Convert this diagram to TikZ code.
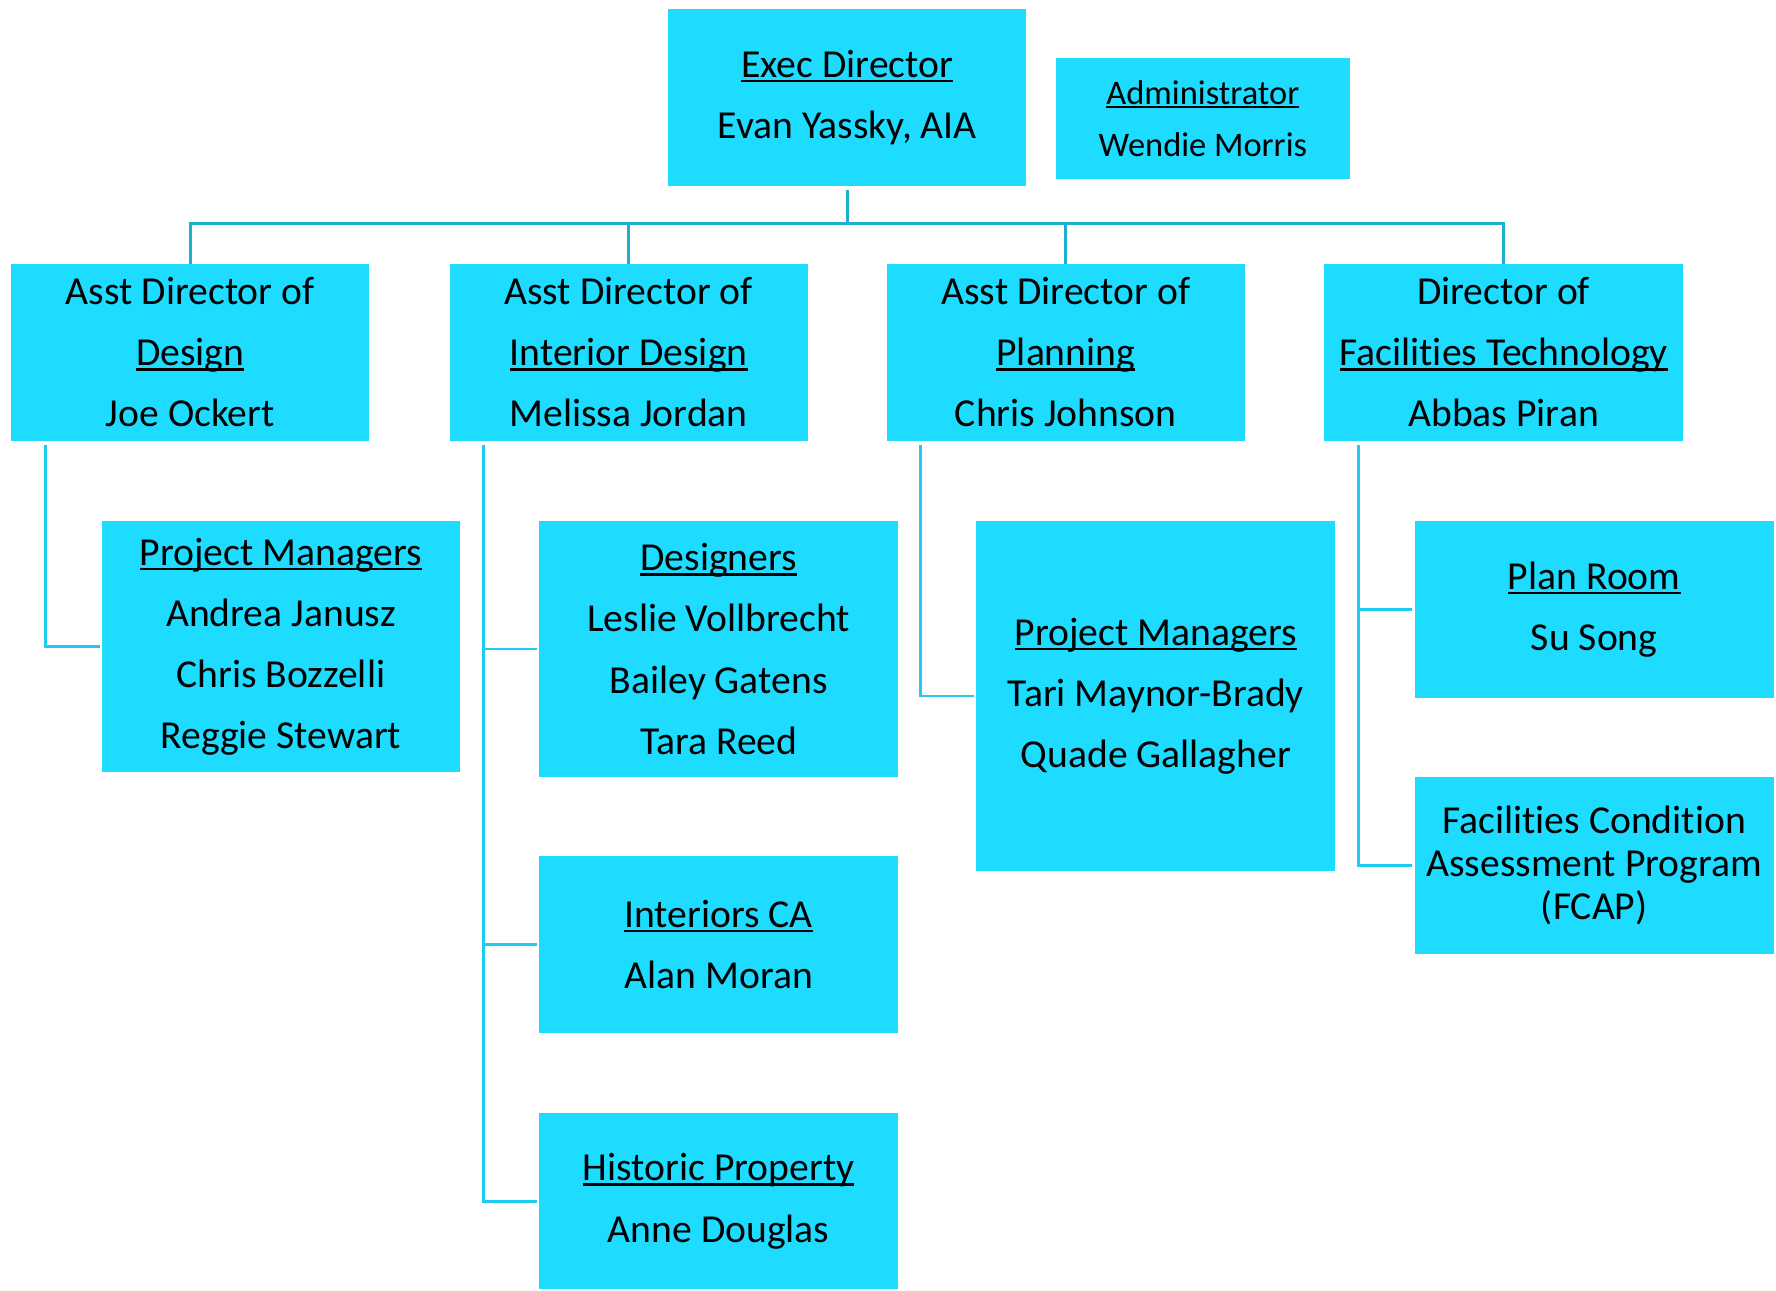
\documentclass[tikz,border=0pt]{standalone}
\usepackage{fontspec}
\setmainfont[Ligatures=NoCommon]{Carlito}
\usetikzlibrary{calc}
\definecolor{boxc}{HTML}{1DDCFF}
\definecolor{topc}{HTML}{1BB1CE}
\definecolor{subc}{HTML}{1CCDED}
\newcommand\hd[1]{\leavevmode\setbox0\hbox{#1}\rlap{\rule[-0.12em]{\wd0}{0.055em}}\box0}
\begin{document}
\begin{tikzpicture}[x=0.5pt,y=-0.5pt,
  box/.style={fill=boxc, inner sep=0pt, outer sep=0pt, align=center, font=\fontsize{17.5}{27}\selectfont},
  sz/.style 2 args={minimum width=#1*0.5pt, minimum height=#2*0.5pt},
  top/.style={draw=topc, line width=1.3pt},
  sub/.style={draw=subc, line width=1.3pt, shorten >=1pt}]
\useasboundingbox (0,0) rectangle (1568,1139);

\node[box, sz={316}{156}] (exec) at (748,86) {\hd{Exec Director}\\Evan Yassky, AIA};
\node[box, sz={260}{107}, font=\fontsize{15.2}{23}\selectfont] (admin) at (1062,104.5) {\hd{Administrator}\\Wendie Morris};

\node[box, sz={316}{156}] (d1) at (168,311) {Asst Director of\\\hd{Design}\\Joe Ockert};
\node[box, sz={316}{156}] (d2) at (555,311) {Asst Director of\\\hd{Interior Design}\\Melissa Jordan};
\node[box, sz={316}{156}] (d3) at (941,311) {Asst Director of\\\hd{Planning}\\Chris Johnson};
\node[box, sz={317}{156}] (d4) at (1327.5,311) {Director of\\\hd{Facilities Technology}\\Abbas Piran};

\node[box, sz={316}{222}] (pm1) at (248,571) {\hd{Project Managers}\\Andrea Janusz\\Chris Bozzelli\\Reggie Stewart};
\node[box, sz={317}{226}] (des) at (634.5,573) {\hd{Designers}\\Leslie Vollbrecht\\Bailey Gatens\\Tara Reed};
\node[box, sz={317}{156}] (ica) at (634.5,834) {\hd{Interiors CA}\\Alan Moran};
\node[box, sz={317}{155}] (hist) at (634.5,1060.5) {\hd{Historic Property}\\Anne Douglas};
\node[box, sz={317}{309}] (pm2) at (1020.5,614.5) {\hd{Project Managers}\\Tari Maynor-Brady\\Quade Gallagher};
\node[box, sz={317}{156}] (plan) at (1407.5,538) {\hd{Plan Room}\\Su Song};
\node[box, sz={317}{156}, font=\fontsize{17.5}{19}\selectfont] (fcap) at (1407.5,764) {Facilities Condition\\Assessment Program\\(FCAP)};

% top tree
\coordinate (bus) at (748,197);
\draw[top] ($(exec.south)+(0,4)$) -- (exec.south |- bus);
\draw[top] (d1.north) -- (d1.north |- bus) -- (d4.north |- bus) -- (d4.north);
\draw[top] (d2.north) -- (d2.north |- bus);
\draw[top] (d3.north) -- (d3.north |- bus);

% sub trees
\coordinate (v1) at ($(d1.south west)+(30,4)$);
\coordinate (v2) at ($(d2.south west)+(30,4)$);
\coordinate (v3) at ($(d3.south west)+(30,4)$);
\coordinate (v4) at ($(d4.south west)+(30,4)$);
\draw[sub] (v1) |- (pm1.west);
\draw[sub] (v2) |- (hist.west);
\draw[sub] (v2 |- des.west) -- (des.west);
\draw[sub] (v2 |- ica.west) -- (ica.west);
\draw[sub] (v3) |- (pm2.west);
\draw[sub] (v4) |- (fcap.west);
\draw[sub] (v4 |- plan.west) -- (plan.west);
\end{tikzpicture}
\end{document}
